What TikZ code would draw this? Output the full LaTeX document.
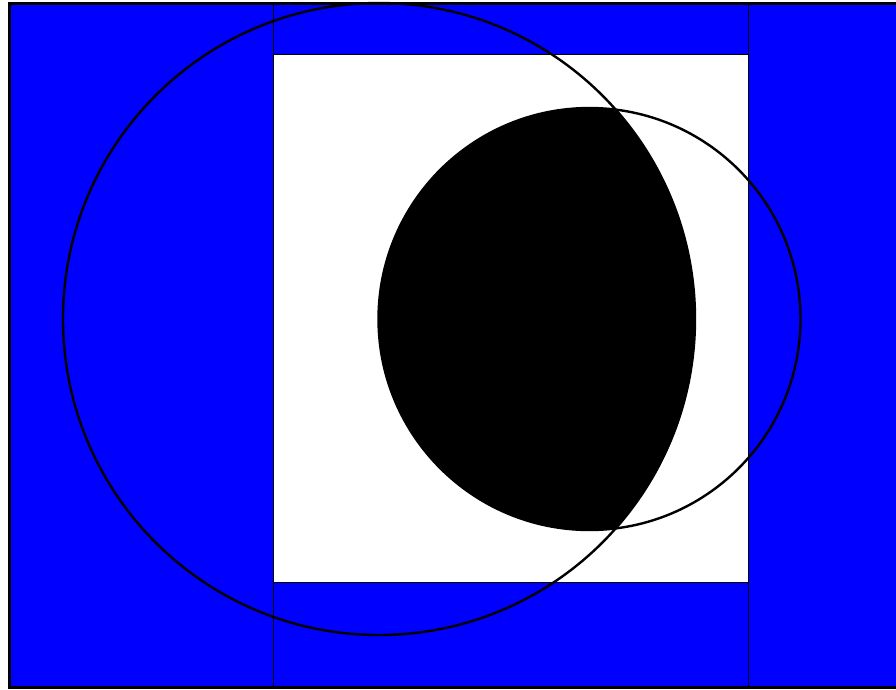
\documentclass[tikz,border=0pt]{standalone}
\begin{document}
\begin{tikzpicture}[x=1pt,y=-1pt,
  thinline/.style={draw=black,line width=1.3pt},
  circline/.style={draw=black,line width=2.4pt}]
\useasboundingbox (0,0) rectangle (896,689);
\clip (0,0) rectangle (896,689);
\fill[white] (0,0) rectangle (896,689);
\filldraw[fill=blue,draw=black,line width=3.2pt] (9.6,3.6) rectangle (910,687.4);
\filldraw[fill=white,thinline] (273.3,54.7) rectangle (748.3,582.8);
\draw[thinline] (273.3,3.6) -- (273.3,687.4);
\draw[thinline] (748.3,3.6) -- (748.3,687.4);
\begin{scope}
\clip (379,319) circle[radius=316];
\fill[black] (589.5,319) circle[radius=211];
\end{scope}
\draw[circline] (379,319) circle[radius=316];
\draw[circline] (589.5,319) circle[radius=211];
\end{tikzpicture}
\end{document}
